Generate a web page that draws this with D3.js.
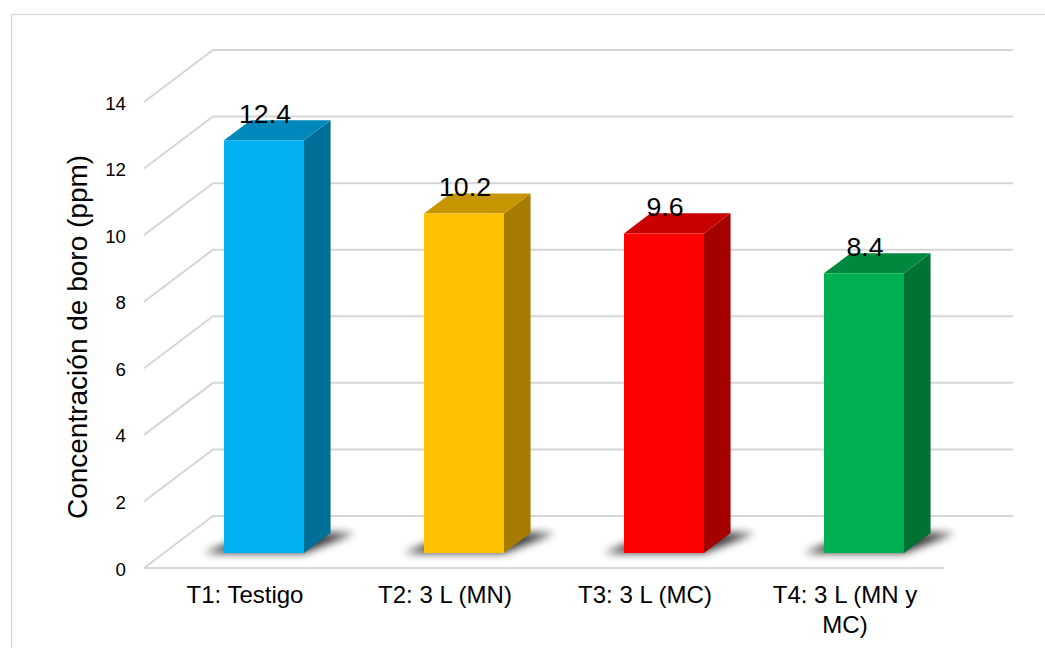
<!DOCTYPE html>
<html>
<head>
<meta charset="utf-8">
<script src="https://cdn.jsdelivr.net/npm/d3@7"></script>
<style>
  html, body { margin: 0; padding: 0; background: #fff; }
  svg { display: block; font-family: "Liberation Sans", Arial, sans-serif; }
</style>
</head>
<body>
<svg id="chart" width="1045" height="648"></svg>
<script>
// Boron concentration per treatment
const categories = ["T1: Testigo", "T2: 3 L (MN)", "T3: 3 L (MC)", "T4: 3 L (MN y MC)"];
const values = [12.4, 10.2, 9.6, 8.4];
const yTicks = [0, 2, 4, 6, 8, 10, 12, 14];
const yTitle = "Concentración de boro (ppm)";

// Face colours for each bar: front, top, side
const frontColors = ["#00b0f0", "#ffc000", "#ff0000", "#00b050"];
const topColors = ["#0088ba", "#c79500", "#c80000", "#00893e"];
const sideColors = ["#006f97", "#a57c00", "#a30000", "#007233"];

const svg = d3.select("#chart");
const gridColor = "#d6d6d6";

// Outer chart frame
svg.append("rect")
  .attr("x", 11.5).attr("y", 14.5)
  .attr("width", 1100).attr("height", 700)
  .attr("fill", "none").attr("stroke", "#d9d9d9").attr("stroke-width", 1.3);

// Oblique projection: depth z in [0,1] shifts right and up
const DX = 69, DY = -52;
const x = d3.scaleBand().domain(categories).range([144, 944])
  .paddingInner(0.6).paddingOuter(0.3);
const y = d3.scaleLinear().domain([0, 14]).range([568, 102]);
const Z0 = 0.29, Z1 = 0.675;
const P = (px, py, z) => [px + z * DX, py + z * DY];

// Walls: diagonal lines on the side wall and horizontal lines on the back wall
const grid = svg.append("g");
yTicks.forEach(t => {
  const a = P(x.range()[0], y(t), 0);
  const b = P(x.range()[0], y(t), 1);
  const c = P(x.range()[1], y(t), 1);
  grid.append("path")
    .attr("d", d3.line()([a, b, c]))
    .attr("fill", "none").attr("stroke", gridColor).attr("stroke-width", 2);
});
// Front edge of the floor
grid.append("line")
  .attr("x1", x.range()[0]).attr("x2", x.range()[1])
  .attr("y1", y(0)).attr("y2", y(0))
  .attr("stroke", gridColor).attr("stroke-width", 2);

// Y axis tick labels
svg.append("g").selectAll("text").data(yTicks).join("text")
  .attr("x", 126).attr("y", d => y(d) + 7.5)
  .attr("text-anchor", "end").attr("font-size", 18.7).attr("fill", "#000")
  .text(d => d);

// Y axis title
svg.append("text")
  .attr("transform", "translate(87,337) rotate(-90)")
  .attr("text-anchor", "middle").attr("font-size", 28).attr("fill", "#000")
  .text(yTitle);

// Soft shadows under the bars
const defs = svg.append("defs");
defs.append("filter").attr("id", "shadowBlur")
  .attr("x", "-50%").attr("y", "-50%").attr("width", "200%").attr("height", "200%")
  .append("feGaussianBlur").attr("stdDeviation", 4.5);

const bars = categories.map((c, i) => {
  const x0 = x(c), x1 = x0 + x.bandwidth();
  return { c, v: values[i], i, x0, x1 };
});

svg.append("g").selectAll("polygon").data(bars).join("polygon")
  .attr("points", d => {
    const fl = P(d.x0 - 20, y(0), Z0);
    const fr = P(d.x1, y(0), Z0);
    const br = P(d.x1 + 24, y(0), Z1);
    const bl = P(d.x0 + 4, y(0), Z1);
    return [fl, fr, br, bl].map(p => p.join(",")).join(" ");
  })
  .attr("fill", "#000").attr("opacity", 0.8)
  .attr("filter", "url(#shadowBlur)");

// 3D bars
const g = svg.append("g");
bars.forEach(d => {
  const ft = P(d.x0, y(d.v), Z0), fr = P(d.x1, y(d.v), Z0);
  const fb = P(d.x1, y(0), Z0), fl = P(d.x0, y(0), Z0);
  const bt = P(d.x0, y(d.v), Z1), br = P(d.x1, y(d.v), Z1);
  const bb = P(d.x1, y(0), Z1);
  // side face
  g.append("polygon")
    .attr("points", [fr, br, bb, fb].map(p => p.join(",")).join(" "))
    .attr("fill", sideColors[d.i]);
  // top face
  g.append("polygon")
    .attr("points", [ft, bt, br, fr].map(p => p.join(",")).join(" "))
    .attr("fill", topColors[d.i]);
  // front face
  g.append("polygon")
    .attr("points", [ft, fr, fb, fl].map(p => p.join(",")).join(" "))
    .attr("fill", frontColors[d.i]);
  // value label
  g.append("text")
    .attr("x", (ft[0] + fr[0]) / 2 + 1)
    .attr("y", ft[1] - 17.5)
    .attr("text-anchor", "middle").attr("font-size", 26.7).attr("fill", "#000")
    .text(d3.format(".1f")(d.v));
});

// Category labels, wrapped to the band width
const maxW = 170;
const xl = svg.append("g");
categories.forEach(c => {
  const t = xl.append("text")
    .attr("x", x(c) + x.bandwidth() / 2 + 1)
    .attr("y", 603)
    .attr("text-anchor", "middle").attr("font-size", 24).attr("fill", "#000");
  const words = c.split(" ");
  let line = [], lineNo = 0;
  let tspan = t.append("tspan").attr("x", x(c) + x.bandwidth() / 2 + 1).attr("dy", 0);
  words.forEach(w => {
    line.push(w);
    tspan.text(line.join(" "));
    if (tspan.node().getComputedTextLength() > maxW && line.length > 1) {
      line.pop();
      tspan.text(line.join(" "));
      line = [w];
      lineNo++;
      tspan = t.append("tspan").attr("x", x(c) + x.bandwidth() / 2 + 1)
        .attr("dy", 30).text(w);
    }
  });
});
</script>
</body>
</html>
